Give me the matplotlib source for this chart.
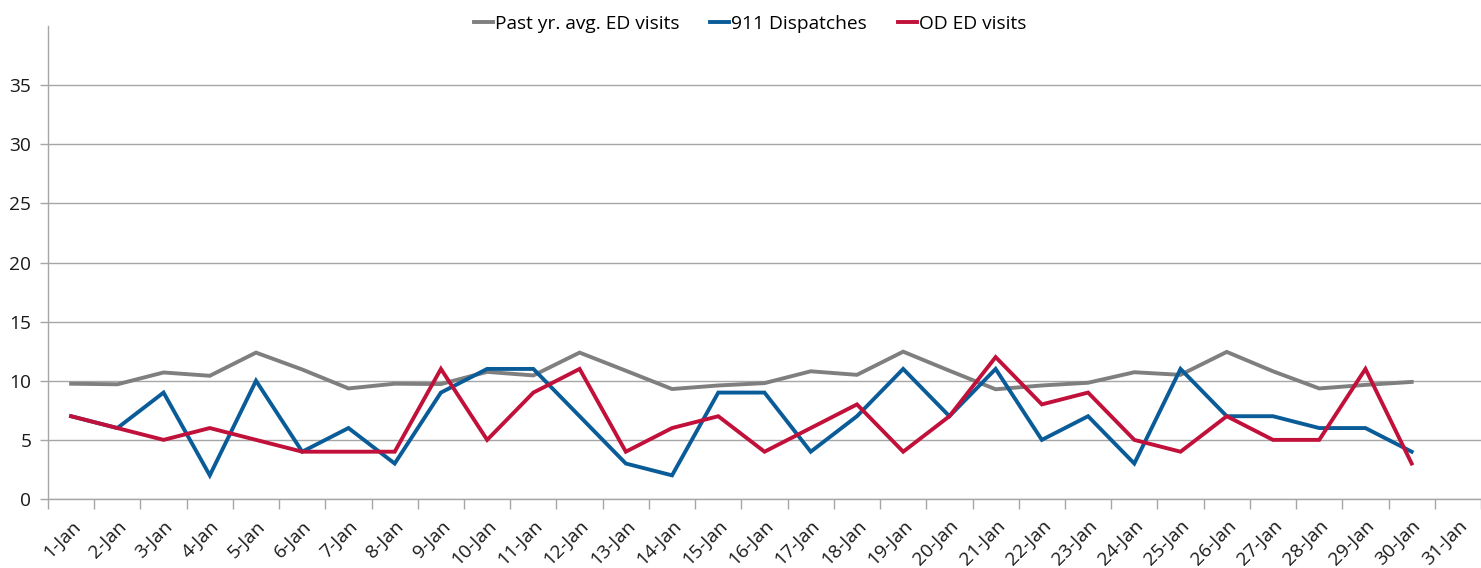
import matplotlib
matplotlib.use("Agg")
import matplotlib.pyplot as plt
from matplotlib.ticker import FixedLocator

plt.rcParams['font.family'] = ['Open Sans', 'DejaVu Sans']

# Data
days = [f"{d}-Jan" for d in range(1, 32)]
past_avg = [9.75, 9.7, 10.7, 10.42, 12.38, 10.95, 9.35, 9.75, 9.72, 10.75,
            10.45, 12.38, 10.85, 9.3, 9.6, 9.8, 10.8, 10.5, 12.46, 10.85,
            9.28, 9.6, 9.83, 10.72, 10.5, 12.44, 10.8, 9.35, 9.65, 9.9]
dispatches = [7, 6, 9, 2, 10, 4, 6, 3, 9, 11, 11, 7, 3, 2, 9, 9, 4, 7, 11, 7,
              11, 5, 7, 3, 11, 7, 7, 6, 6, 4]
od_visits = [7, 6, 5, 6, 5, 4, 4, 4, 11, 5, 9, 11, 4, 6, 7, 4, 6, 8, 4, 7,
             12, 8, 9, 5, 4, 7, 5, 5, 11, 3]

GRAY = '#7f7f7f'
BLUE = '#0a5c99'
RED = '#c1103a'
FS = 13.8

fig = plt.figure(figsize=(14.81, 5.68), dpi=100)
ax = fig.add_axes([48 / 1481, 1 - 499 / 568, 1 - 48 / 1481, (499 - 26) / 568])

x = list(range(1, len(past_avg) + 1))
ax.plot(x, past_avg, color=GRAY, lw=2.8, label='Past yr. avg. ED visits', solid_joinstyle='miter')
ax.plot(x, dispatches, color=BLUE, lw=2.8, label='911 Dispatches', solid_joinstyle='miter')
ax.plot(range(1, len(od_visits) + 1), od_visits, color=RED, lw=2.8, label='OD ED visits',
        solid_joinstyle='miter')

ax.set_xlim(0.5, len(days) + 0.5)
ax.set_ylim(0, 40)
ax.set_yticks([0, 5, 10, 15, 20, 25, 30, 35])
ax.yaxis.grid(True, color='#a6a6a6', lw=1)
ax.set_axisbelow(True)

ax.set_xticks(range(1, len(days) + 1))
ax.set_xticklabels(days, rotation=45, ha='right', rotation_mode='anchor')
ax.xaxis.set_minor_locator(FixedLocator([i + 0.5 for i in range(0, len(days) + 1)]))
ax.tick_params(axis='x', which='major', length=0, pad=13, labelsize=FS, colors='#1a1a1a')
ax.tick_params(axis='x', which='minor', length=7, width=1, color='#a6a6a6')
ax.tick_params(axis='y', length=6, width=1, color='#a6a6a6', labelsize=FS,
               labelcolor='#1a1a1a', pad=6)

for side in ['top', 'right']:
    ax.spines[side].set_visible(False)
for side in ['left', 'bottom']:
    ax.spines[side].set_color('#a6a6a6')
    ax.spines[side].set_linewidth(1)

fig.legend(loc='center', bbox_to_anchor=(750 / 1481, 1 - 24 / 568), ncol=3, frameon=False,
           fontsize=FS, handlelength=1.0, handletextpad=0.1, columnspacing=1.6)

fig.savefig('out.png', dpi=100)
